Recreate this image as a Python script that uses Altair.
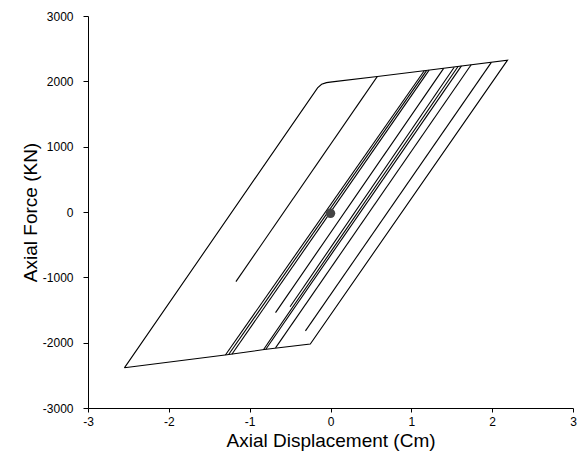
import altair as alt
import pandas as pd

# Each segment of the hysteresis record: (segment id, list of (displacement cm, force kN))
seg_ids = ["outer", "a", "b1", "b2", "b3", "c", "d1", "d2", "e", "f", "g"]
seg_x = [
    [-2.55, -0.16, -0.11, -0.05, 0.02, 0.58, 1.18, 2.19, -0.25, -0.82, -1.28, -2.55],
    [-1.17, 0.58],
    [-1.30, 1.16],
    [-1.26, 1.19],
    [-1.22, 1.22],
    [-0.68, 1.40],
    [-0.83, 1.58],
    [-0.80, 1.62],
    [-0.68, 1.74],
    [-0.31, 1.99],
    [-0.50, 1.53],
]
seg_y = [
    [-2385, 1900, 1955, 1980, 1992, 2075, 2165, 2325, -2020, -2105, -2185, -2385],
    [-1065, 2075],
    [-2188, 2162],
    [-2182, 2168],
    [-2177, 2172],
    [-1540, 2198],
    [-2108, 2230],
    [-2100, 2236],
    [-2080, 2254],
    [-1820, 2290],
    [-1450, 2215],
]
dot_x = [0.0]
dot_y = [-20]

rows = []
for sid, xs, ys in zip(seg_ids, seg_x, seg_y):
    for i, (xv, yv) in enumerate(zip(xs, ys)):
        rows.append({"seg": sid, "i": i, "x": xv, "y": yv})
df = pd.DataFrame(rows)
dots = pd.DataFrame({"x": dot_x, "y": dot_y})

font = "Liberation Sans"
xscale = alt.Scale(domain=[-3, 3], nice=False, zero=False)
yscale = alt.Scale(domain=[-3000, 3000], nice=False, zero=False)

xaxis = alt.Axis(
    title="Axial Displacement (Cm)", values=[-3, -2, -1, 0, 1, 2, 3],
    labelExpr="toString(datum.value)",
    grid=False, tickSize=4, labelPadding=4, labelFontSize=12, titleFontSize=19,
    titleFontWeight="normal", titlePadding=4, domainColor="black", tickColor="black",
    labelColor="black", titleColor="black", labelFont=font, titleFont=font,
    labelFlush=False,
)
yaxis = alt.Axis(
    title="Axial Force (KN)", values=[-3000, -2000, -1000, 0, 1000, 2000, 3000],
    labelExpr="toString(datum.value)",
    grid=False, tickSize=5, labelPadding=10, labelFontSize=12, titleFontSize=19,
    titleFontWeight="normal", titlePadding=2, domainColor="black", tickColor="black",
    labelColor="black", titleColor="black", labelFont=font, titleFont=font,
    labelFlush=False,
)

lines = alt.Chart(df).mark_line(color="black", strokeWidth=1.1).encode(
    x=alt.X("x:Q", scale=xscale, axis=xaxis),
    y=alt.Y("y:Q", scale=yscale, axis=yaxis),
    detail="seg:N",
    order="i:Q",
)
dot = alt.Chart(dots).mark_circle(color="#444444", size=90, opacity=1).encode(
    x=alt.X("x:Q", scale=xscale),
    y=alt.Y("y:Q", scale=yscale),
)

chart = (lines + dot).properties(
    width=485, height=392,
    autosize=alt.AutoSizeParams(type="none"),
    padding={"left": 88, "top": 16, "right": 9, "bottom": 53},
    background="white",
).configure_view(stroke=None)

chart.save("out.html", embed_options={"renderer": "svg", "actions": False})
